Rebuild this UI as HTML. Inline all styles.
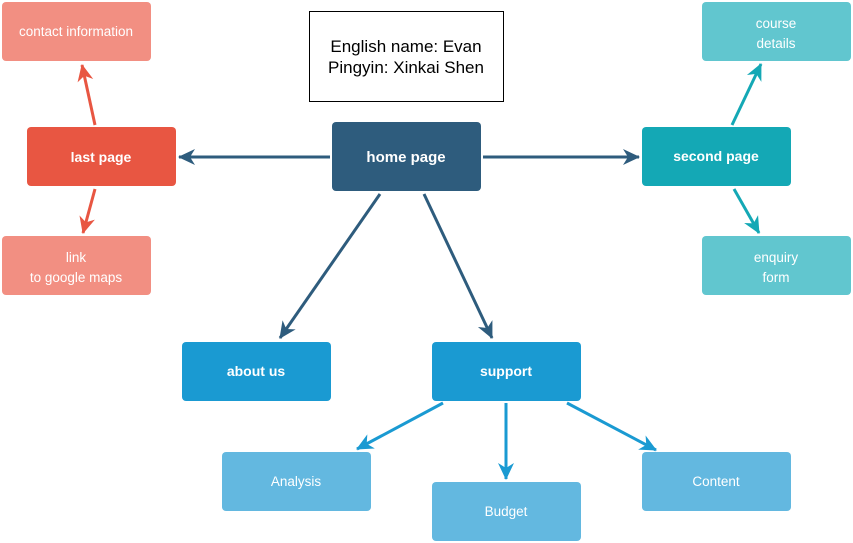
<!DOCTYPE html>
<html><head><meta charset="utf-8"><style>
html,body{margin:0;padding:0;background:#fff;}
svg{display:block;}
text{font-family:"Liberation Sans",sans-serif;fill:#fff;text-anchor:middle;}
</style></head><body>
<svg width="853" height="543" viewBox="0 0 853 543" xmlns="http://www.w3.org/2000/svg">
<defs>
<marker id="aD" markerUnits="userSpaceOnUse" markerWidth="18" markerHeight="18" refX="16" refY="9" orient="auto"><path d="M0,1 L17,9 L0,17 L5,9 z" fill="#2E5C7D"/></marker>
<marker id="aR" markerUnits="userSpaceOnUse" markerWidth="18" markerHeight="18" refX="16" refY="9" orient="auto"><path d="M0,1 L17,9 L0,17 L5,9 z" fill="#E85642"/></marker>
<marker id="aT" markerUnits="userSpaceOnUse" markerWidth="18" markerHeight="18" refX="16" refY="9" orient="auto"><path d="M0,1 L17,9 L0,17 L5,9 z" fill="#14A8B5"/></marker>
<marker id="aB" markerUnits="userSpaceOnUse" markerWidth="18" markerHeight="18" refX="16" refY="9" orient="auto"><path d="M0,1 L17,9 L0,17 L5,9 z" fill="#1A9AD2"/></marker>
</defs>

<g stroke-width="3" fill="none">
<line x1="330" y1="157" x2="179" y2="157" stroke="#2E5C7D" marker-end="url(#aD)"/>
<line x1="483" y1="157" x2="639" y2="157" stroke="#2E5C7D" marker-end="url(#aD)"/>
<line x1="380" y1="194" x2="280" y2="338" stroke="#2E5C7D" marker-end="url(#aD)"/>
<line x1="424" y1="194" x2="492" y2="338" stroke="#2E5C7D" marker-end="url(#aD)"/>
<line x1="95" y1="125" x2="82" y2="65" stroke="#E85642" marker-end="url(#aR)"/>
<line x1="95" y1="189" x2="83" y2="233" stroke="#E85642" marker-end="url(#aR)"/>
<line x1="732" y1="125" x2="761" y2="64" stroke="#14A8B5" marker-end="url(#aT)"/>
<line x1="734" y1="189" x2="759" y2="233" stroke="#14A8B5" marker-end="url(#aT)"/>
<line x1="443" y1="403" x2="357" y2="449" stroke="#1A9AD2" marker-end="url(#aB)"/>
<line x1="506" y1="403" x2="506" y2="479" stroke="#1A9AD2" marker-end="url(#aB)"/>
<line x1="567" y1="403" x2="656" y2="450" stroke="#1A9AD2" marker-end="url(#aB)"/>
</g>

<rect x="309.5" y="11.5" width="194" height="90" fill="#fff" stroke="#000" stroke-width="1"/>
<text x="406" y="52" font-size="17" style="fill:#000">English name: Evan</text>
<text x="406" y="73" font-size="17" style="fill:#000">Pingyin: Xinkai Shen</text>

<rect x="332" y="122" width="149" height="69" rx="4" fill="#2E5C7D"/>
<text x="406" y="162" font-size="15" font-weight="bold">home page</text>

<rect x="27" y="127" width="149" height="59" rx="4" fill="#E85642"/>
<text x="101" y="162" font-size="14" font-weight="bold">last page</text>

<rect x="2" y="2" width="149" height="59" rx="4" fill="#F28F82"/>
<text x="76" y="36" font-size="13.5">contact information</text>

<rect x="2" y="236" width="149" height="59" rx="4" fill="#F28F82"/>
<text x="76" y="262" font-size="13.5">link</text>
<text x="76" y="282" font-size="13.5">to google maps</text>

<rect x="642" y="127" width="149" height="59" rx="4" fill="#14A8B5"/>
<text x="716" y="161" font-size="14" font-weight="bold">second page</text>

<rect x="702" y="2" width="149" height="59" rx="4" fill="#61C6CF"/>
<text x="776" y="28" font-size="13.5">course</text>
<text x="776" y="48" font-size="13.5">details</text>

<rect x="702" y="236" width="149" height="59" rx="4" fill="#61C6CF"/>
<text x="776" y="262" font-size="13.5">enquiry</text>
<text x="776" y="282" font-size="13.5">form</text>

<rect x="182" y="342" width="149" height="59" rx="4" fill="#1A9AD2"/>
<text x="256" y="376" font-size="14" font-weight="bold">about us</text>

<rect x="432" y="342" width="149" height="59" rx="4" fill="#1A9AD2"/>
<text x="506" y="376" font-size="14" font-weight="bold">support</text>

<rect x="222" y="452" width="149" height="59" rx="4" fill="#63B8E0"/>
<text x="296" y="486" font-size="13.5">Analysis</text>

<rect x="432" y="482" width="149" height="59" rx="4" fill="#63B8E0"/>
<text x="506" y="516" font-size="13.5">Budget</text>

<rect x="642" y="452" width="149" height="59" rx="4" fill="#63B8E0"/>
<text x="716" y="486" font-size="13.5">Content</text>
</svg>
</body></html>
